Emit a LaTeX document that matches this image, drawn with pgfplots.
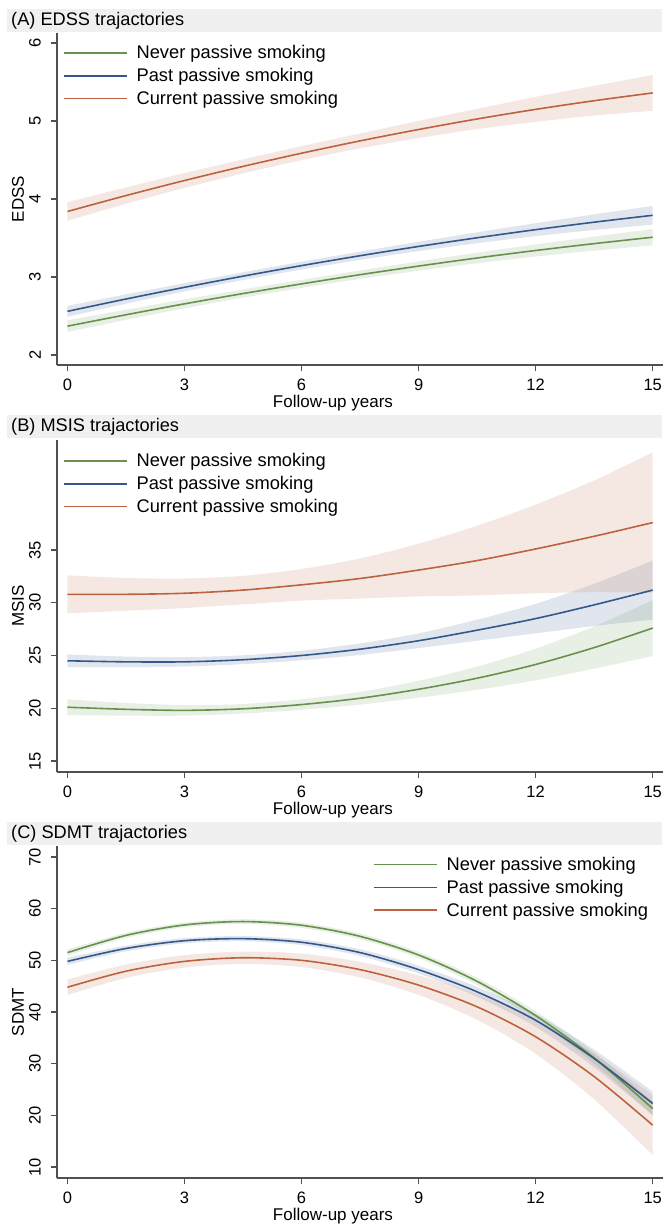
\documentclass[border=0pt]{standalone}
\usepackage{fontspec}
\setmainfont{Liberation Sans}
\usepackage{pgfplots}
\usepackage{pgfplotstable}
\pgfplotsset{compat=1.18}
\usepgfplotslibrary{fillbetween}
\definecolor{cnever}{RGB}{104,145,78}
\definecolor{cpast}{RGB}{52,88,138}
\definecolor{ccur}{RGB}{188,98,64}
\definecolor{axgray}{RGB}{80,80,80}
\definecolor{strip}{RGB}{240,240,240}

\pgfplotstableread{
x n nl nh p pl ph c cl ch
0 2.370 2.295 2.445 2.560 2.490 2.630 3.840 3.720 3.960
1.5 2.516 2.451 2.581 2.718 2.658 2.778 4.044 3.939 4.149
3 2.656 2.598 2.714 2.868 2.815 2.921 4.237 4.142 4.332
4.5 2.788 2.735 2.841 3.011 2.961 3.061 4.418 4.328 4.508
6 2.912 2.860 2.964 3.146 3.096 3.196 4.587 4.497 4.677
7.5 3.030 2.976 3.084 3.273 3.220 3.326 4.745 4.650 4.840
9 3.140 3.080 3.200 3.392 3.332 3.452 4.891 4.781 5.001
10.5 3.244 3.176 3.312 3.503 3.433 3.573 5.026 4.896 5.156
12 3.340 3.262 3.418 3.607 3.524 3.690 5.149 4.989 5.309
13.5 3.428 3.338 3.518 3.703 3.603 3.803 5.260 5.070 5.450
15 3.510 3.405 3.615 3.791 3.671 3.911 5.360 5.130 5.590
}\edss

\pgfplotstableread{
x n nl nh p pl ph c cl ch
0 20.10 19.35 20.85 24.5 23.90 25.10 30.8 29.00 32.60
1.5 19.90 19.30 20.50 24.4 23.90 24.90 30.8 29.25 32.35
3 19.80 19.30 20.30 24.4 23.95 24.85 30.9 29.50 32.30
4.5 19.95 19.50 20.40 24.6 24.18 25.02 31.2 29.85 32.55
6 20.35 19.85 20.85 25.0 24.55 25.45 31.7 30.20 33.20
7.5 20.95 20.35 21.55 25.6 25.05 26.15 32.3 30.40 34.20
9 21.80 21.00 22.60 26.4 25.70 27.10 33.1 30.60 35.60
10.5 22.85 21.75 23.95 27.4 26.40 28.40 34.0 30.70 37.30
12 24.15 22.65 25.65 28.5 27.10 29.90 35.1 30.90 39.30
13.5 25.75 23.75 27.75 29.8 27.80 31.80 36.3 31.00 41.60
15 27.60 24.95 30.25 31.2 28.40 34.00 37.6 30.95 44.25
}\msis

\pgfplotstableread{
x n nl nh p pl ph c cl ch
0 51.50 50.90 52.10 49.8 49.10 50.50 44.8 43.30 46.30
1.5 54.83 54.33 55.33 52.3 51.75 52.85 47.9 46.60 49.20
3 56.85 56.40 57.30 53.8 53.30 54.30 49.8 48.60 51.00
4.5 57.51 57.06 57.96 54.2 53.70 54.70 50.5 49.30 51.70
6 56.79 56.29 57.29 53.5 52.95 54.05 50.0 48.70 51.30
7.5 54.64 54.09 55.19 51.5 50.85 52.15 48.2 46.70 49.70
9 51.03 50.43 51.63 48.2 47.45 48.95 45.2 43.30 47.10
10.5 45.93 45.23 46.63 43.9 42.95 44.85 41.0 38.50 43.50
12 39.30 38.45 40.15 38.4 37.15 39.65 35.2 31.90 38.50
13.5 31.10 30.05 32.15 31.0 29.30 32.70 27.5 23.10 31.90
15 21.30 20.00 22.60 22.3 20.00 24.60 18.1 12.30 23.90
}\sdmt

\newcommand{\band}[4]{%
  \addplot[name path=#2, draw=none, smooth, forget plot] table[x=x, y=#2] {#1};
  \addplot[name path=#3, draw=none, smooth, forget plot] table[x=x, y=#3] {#1};
  \addplot[fill=#4, fill opacity=0.15, draw=none, forget plot] fill between[of=#2 and #3];
}
\newcommand{\allseries}[1]{%
  \band{#1}{nl}{nh}{cnever}
  \band{#1}{pl}{ph}{cpast}
  \band{#1}{cl}{ch}{ccur}
  \addplot[cnever, line width=1.6pt, smooth] table[x=x, y=n] {#1};
  \addlegendentry{Never passive smoking}
  \addplot[cpast, line width=1.6pt, smooth] table[x=x, y=p] {#1};
  \addlegendentry{Past passive smoking}
  \addplot[ccur, line width=1.6pt, smooth] table[x=x, y=c] {#1};
  \addlegendentry{Current passive smoking}
}

\pgfplotsset{
  panel/.style={
    scale only axis, width=606pt, height=332pt,
    xmin=-0.269, xmax=15.264,
    axis lines*=left,
    axis line style={draw=axgray, line width=1.1pt},
    every tick/.style={draw=axgray, line width=1.1pt},
    tick align=outside, major tick length=6pt,
    xtick={0,3,6,9,12,15},
    /pgf/number format/assume math mode=true,
    ticklabel style={font=\fontsize{16.5}{18}\selectfont},
    xticklabel style={anchor=center, inner sep=0pt, yshift=-14pt},
    yticklabel style={xshift=-16pt, rotate=90, anchor=center, inner sep=0pt},
    xlabel={Follow-up years},
    every axis x label/.style={at={(axis description cs:0.4554,0)}, yshift=-38pt, anchor=center, font=\fontsize{17}{19}\selectfont},
    every axis y label/.style={at={(axis description cs:0,0.5)}, xshift=-39pt, rotate=90, anchor=center, font=\fontsize{17}{19}\selectfont},
    legend cell align=left,
    legend image code/.code={\draw[##1, line width=1.6pt] (0pt,0pt) -- (63pt,0pt);},
    legend style={draw=none, fill=none, anchor=north west, inner sep=0pt, outer sep=0pt,
      font=\fontsize{18.3}{20}\selectfont, row sep=8pt, column sep=9pt, nodes={inner sep=0pt}},
  },
}

\begin{document}
\begin{tikzpicture}
% strips
\fill[strip] (7pt,-9pt) rectangle (662pt,-32pt);
\node[anchor=west, inner sep=0pt, font=\fontsize{18.2}{20}\selectfont] at (11pt,-20.5pt) {(A) EDSS trajactories};
\fill[strip] (7pt,-415pt) rectangle (662pt,-438pt);
\node[anchor=west, inner sep=0pt, font=\fontsize{18.2}{20}\selectfont] at (11pt,-426.5pt) {(B) MSIS trajactories};
\fill[strip] (7pt,-822pt) rectangle (662pt,-845pt);
\node[anchor=west, inner sep=0pt, font=\fontsize{18.2}{20}\selectfont] at (11pt,-833.5pt) {(C) SDMT trajactories};

\begin{axis}[panel, at={(57pt,-365pt)}, anchor=south west,
  ymin=1.872, ymax=6.128, ytick={2,3,4,5,6}, ylabel={EDSS},
  legend style={at={(axis description cs:0.0099,0.962)}}]
\allseries{\edss}
\end{axis}

\begin{axis}[panel, at={(57pt,-772pt)}, anchor=south west,
  ymin=13.957, ymax=45.427, ytick={15,20,25,30,35}, ylabel={MSIS},
  legend style={at={(axis description cs:0.0099,0.959)}}]
\allseries{\msis}
\end{axis}

\begin{axis}[panel, at={(57pt,-1178pt)}, anchor=south west,
  ymin=7.871, ymax=72.13, ytick={10,20,30,40,50,60,70}, ylabel={SDMT},
  legend style={at={(axis description cs:0.5215,0.966)}}]
\allseries{\sdmt}
\end{axis}
\pgfresetboundingbox
\useasboundingbox (0pt,0pt) rectangle (666pt,-1225pt);
\end{tikzpicture}
\end{document}
